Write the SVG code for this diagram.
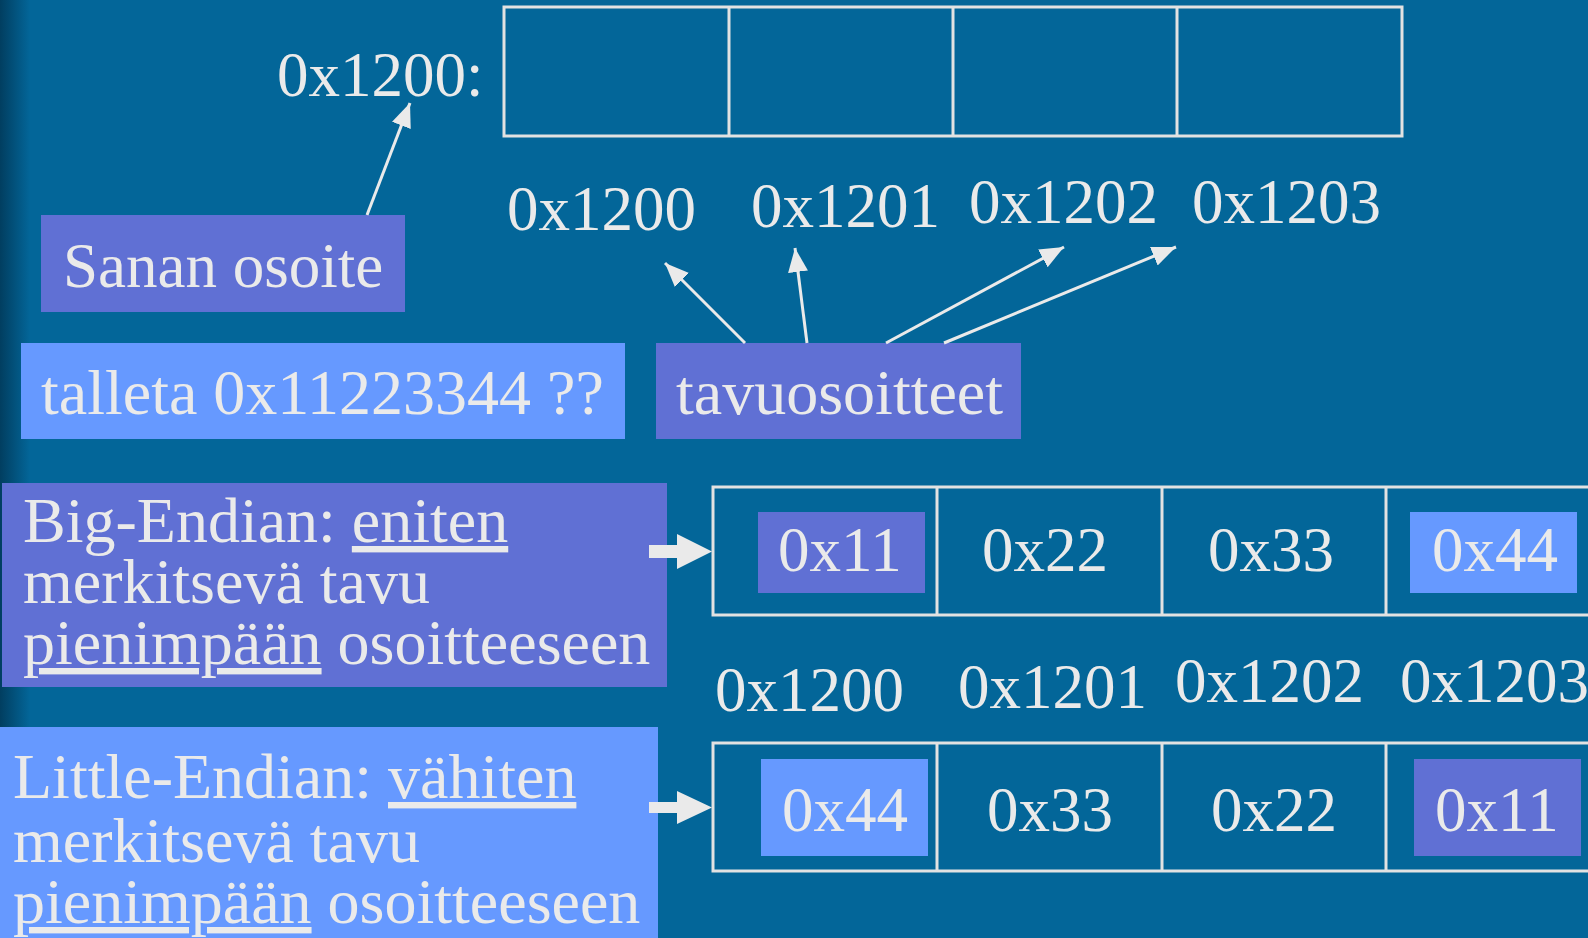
<svg xmlns="http://www.w3.org/2000/svg" width="1588" height="938" viewBox="0 0 1588 938">
<defs>
<linearGradient id="edge" x1="0" y1="0" x2="1" y2="0">
<stop offset="0" stop-color="#013e60"/>
<stop offset="1" stop-color="#036699"/>
</linearGradient>
<marker id="ah" markerUnits="userSpaceOnUse" markerWidth="26" markerHeight="22" refX="24" refY="10" orient="auto">
<path d="M0,0 L24,10 L0,20 Z" fill="#eaeaea"/>
</marker>
<style>
text{font-family:"Liberation Serif","Times New Roman",serif;font-size:63px;fill:#eaeaea}
.bt{font-size:64px}
.pu{fill:#6070d4}
.lb{fill:#6699ff}
.frame{fill:none;stroke:#e2e2e2;stroke-width:3}
.conn{stroke:#eaeaea;stroke-width:3;fill:none}
.blk{fill:#eaeaea}
.u{text-decoration:underline}
</style>
</defs>
<rect width="1588" height="938" fill="#036699"/>
<rect width="30" height="938" fill="url(#edge)"/>

<g id="word">
<text x="277" y="96">0x1200:</text>
<rect class="frame" x="504" y="7" width="898" height="129"/>
<line class="frame" x1="729" y1="7" x2="729" y2="136"/>
<line class="frame" x1="953" y1="7" x2="953" y2="136"/>
<line class="frame" x1="1177" y1="7" x2="1177" y2="136"/>
</g>
<g id="addr-top">
<text x="507" y="230">0x1200</text>
<text x="751" y="227">0x1201</text>
<text x="969" y="223">0x1202</text>
<text x="1192" y="223">0x1203</text>
</g>
<g id="sanan">
<rect class="pu" x="41" y="215" width="364" height="97"/>
<text x="63" y="287">Sanan osoite</text>
</g>
<g id="talleta">
<rect class="lb" x="21" y="343" width="604" height="96"/>
<text class="bt" x="41" y="414">talleta 0x11223344 ??</text>
</g>
<g id="tavu">
<rect class="pu" x="656" y="343" width="365" height="96"/>
<text class="bt" x="676" y="414">tavuosoitteet</text>
</g>
<g id="big">
<rect class="pu" x="2" y="483" width="665" height="204"/>
<text class="bt" x="23" y="542">Big-Endian: <tspan class="u">eniten</tspan></text>
<text class="bt" x="23" y="603">merkitsevä tavu</text>
<text class="bt" x="23" y="664"><tspan class="u">pienimpään</tspan> osoitteeseen</text>
</g>
<g id="big-row">
<rect class="frame" x="713" y="487" width="900" height="128"/>
<line class="frame" x1="937" y1="487" x2="937" y2="615"/>
<line class="frame" x1="1162" y1="487" x2="1162" y2="615"/>
<line class="frame" x1="1386" y1="487" x2="1386" y2="615"/>
<rect class="pu" x="758" y="512" width="167" height="81"/>
<rect class="lb" x="1410" y="512" width="167" height="81"/>
<text x="778" y="571">0x11</text>
<text x="982" y="571">0x22</text>
<text x="1208" y="571">0x33</text>
<text x="1432" y="571">0x44</text>
</g>
<g id="addr-mid">
<text x="715" y="711">0x1200</text>
<text x="958" y="708">0x1201</text>
<text x="1175" y="702">0x1202</text>
<text x="1400" y="702">0x1203</text>
</g>
<g id="little">
<rect class="lb" x="0" y="727" width="658" height="211"/>
<text class="bt" x="13" y="798">Little-Endian: <tspan class="u">vähiten</tspan></text>
<text class="bt" x="13" y="862">merkitsevä tavu</text>
<text class="bt" x="13" y="923"><tspan class="u">pienimpään</tspan> osoitteeseen</text>
</g>
<g id="little-row">
<rect class="frame" x="713" y="743" width="900" height="128"/>
<line class="frame" x1="937" y1="743" x2="937" y2="871"/>
<line class="frame" x1="1162" y1="743" x2="1162" y2="871"/>
<line class="frame" x1="1386" y1="743" x2="1386" y2="871"/>
<rect class="lb" x="761" y="759" width="167" height="97"/>
<rect class="pu" x="1414" y="759" width="167" height="97"/>
<text x="782" y="831">0x44</text>
<text x="987" y="831">0x33</text>
<text x="1211" y="831">0x22</text>
<text x="1435" y="831">0x11</text>
</g>
<g id="connectors">
<line class="conn" x1="367" y1="215" x2="410" y2="103" marker-end="url(#ah)"/>
<line class="conn" x1="745" y1="343" x2="665" y2="263" marker-end="url(#ah)"/>
<line class="conn" x1="807" y1="343" x2="795" y2="248" marker-end="url(#ah)"/>
<line class="conn" x1="886" y1="343" x2="1064" y2="247" marker-end="url(#ah)"/>
<line class="conn" x1="944" y1="343" x2="1176" y2="247" marker-end="url(#ah)"/>
<polygon class="blk" points="649,545 677,545 677,534 712,551.5 677,569 677,558 649,558"/>
<polygon class="blk" points="649,802 677,802 677,791 712,807.5 677,824 677,813 649,813"/>
</g>
</svg>
